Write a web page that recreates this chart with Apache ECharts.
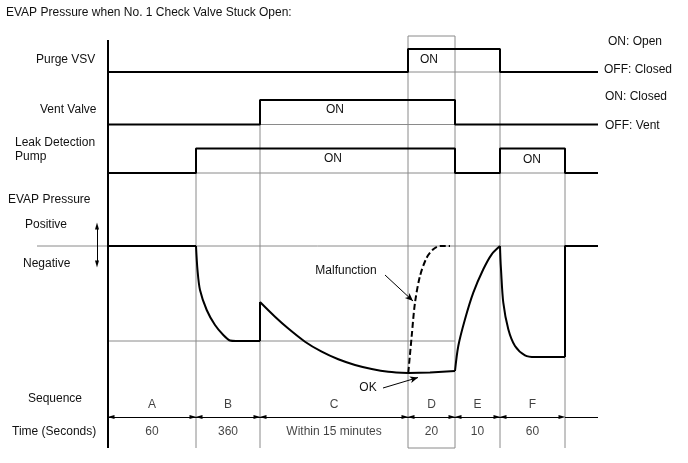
<!DOCTYPE html>
<html><head><meta charset="utf-8">
<script src="https://cdn.jsdelivr.net/npm/echarts@6/dist/echarts.min.js"></script>
<style>html,body{margin:0;padding:0;background:#fff}#c{width:688px;height:463px}</style>
</head><body><div id="c"></div>
<script>
// ---------- DATA ----------
// Sequence boundaries on the (schematic, non-linear) time axis: A..F + trailing part
const seqBounds = [0, 88, 152, 300, 347, 392, 457, 490];
const seqNames = ['A', 'B', 'C', 'D', 'E', 'F'];
const seqTimes = ['60', '360', 'Within 15 minutes', '20', '10', '60'];
// Signal states per segment (A, B, C, D, E, F, after): 1 = ON, 0 = OFF
const purgeVSV  = [0, 0, 0, 1, 1, 0, 0];
const ventValve = [0, 0, 1, 1, 0, 0, 0];
const leakPump  = [0, 1, 1, 1, 0, 1, 0];
// EVAP pressure (relative to atmospheric, diagram units)
const pressA   = [[0, 0], [88, 0]];
const pressB   = [[88, 0], [89.5, -24], [92, -44], [98.7, -64], [107, -79], [115.3, -89], [122, -94.5], [128, -95], [152, -95]];
const pressJump = [[152, -95], [152, -56]];
const pressC   = [[152, -56], [167, -70.7], [180, -82.3], [197, -95.7], [213.7, -105.7], [230.3, -113.3], [247, -119], [263.7, -123], [280.3, -125.7], [300, -127]];
const pressOK  = [[300, -127], [322, -126.6], [347, -125]];
const pressNG  = [[300.3, -126.7], [303.7, -90], [307, -56.7], [312, -30], [318.7, -11.7], [325.3, -3.3], [332, 0], [342, 0]];
const pressE   = [[347, -125], [350.3, -100], [357, -73.3], [365.3, -46.7], [375.3, -23.3], [383.7, -8.3], [392, 0]];
const pressF   = [[392, 0], [392.4, -12], [393, -23.3], [395.3, -56.7], [400.3, -83.3], [407, -100], [417, -109.3], [427, -111], [457, -111]];
const pressEnd = [[457, -111], [457, 0], [490, 0]];
const pressRef = -95;   // level of the grey reference line

// ---------- LAYOUT ----------
const lanes = { purge: { lo: 376, hi: 399 }, vent: { lo: 323.5, hi: 348 }, pump: { lo: 275, hi: 299.5 } };
const P0 = 202;           // pressure zero line
const boxTop = 412, axisTop = 408;
const seqY = 43.5, timeY = 16.5, arrowY = 31;
const FONT = '12px "Liberation Sans", Arial, sans-serif';
const TXT = '#111', GREY = '#8a8a8a';

function stepData(states, lv) {
  const pts = [];
  states.forEach((s, i) => {
    const y = s ? lv.hi : lv.lo;
    pts.push([seqBounds[i], y], [seqBounds[i + 1], y]);
  });
  return pts;
}
const P = arr => arr.map(([x, p]) => [x, P0 + p]);
function L(data, opt) {
  return Object.assign({ type: 'line', data, symbol: 'none', silent: true, animation: false,
    lineStyle: { color: '#000', width: 2 }, z: 3 }, opt || {});
}
const G = data => L(data, { lineStyle: { color: GREY, width: 1 }, z: 2 });
const last = seqBounds[seqBounds.length - 1];

const series = [];
// grey baselines
series.push(G([[0, lanes.purge.lo], [last, lanes.purge.lo]]));
series.push(G([[0, lanes.vent.lo], [last, lanes.vent.lo]]));
series.push(G([[0, lanes.pump.lo], [last, lanes.pump.lo]]));
series.push(G([[-71, P0], [last, P0]]));
series.push(G([[0, P0 + pressRef], [seqBounds[4], P0 + pressRef]]));
// grey vertical boundaries
[[1, lanes.pump.hi], [2, lanes.vent.hi], [5, lanes.purge.hi], [6, lanes.pump.hi]].forEach(([i, top]) => {
  series.push(G([[seqBounds[i], top], [seqBounds[i], 0]]));
});
// D box
series.push(G([[seqBounds[3], 0], [seqBounds[3], boxTop], [seqBounds[4], boxTop], [seqBounds[4], 0], [seqBounds[3], 0]]));
// left axis
series.push(L([[0, axisTop], [0, 0]], { z: 4 }));
// signals
series.push(L(stepData(purgeVSV, lanes.purge)));
series.push(L(stepData(ventValve, lanes.vent)));
series.push(L(stepData(leakPump, lanes.pump)));
// pressure
[pressA, pressJump, pressOK, pressEnd].forEach(a => series.push(L(P(a))));
[pressB, pressC, pressE, pressF].forEach(a => series.push(L(P(a), { smooth: 0.3 })));
series.push(L(P(pressNG), { smooth: 0.3, lineStyle: { color: '#000', width: 2, type: [6, 3] } }));

// arrows
const arrowData = [];
for (let i = 0; i < seqNames.length; i++) {
  arrowData.push([{ coord: [seqBounds[i] + 3, arrowY] }, { coord: [seqBounds[i + 1] - 3, arrowY] }]);
}
series.push({ type: 'line', data: [], silent: true, animation: false,
  markLine: { silent: true, animation: false, symbol: ['triangle', 'triangle'], symbolSize: [4, 7],
    label: { show: false }, lineStyle: { color: '#000', width: 1, type: 'solid' },
    data: arrowData.concat([[{ coord: [-11, 222] }, { coord: [-11, 184] }]]) } });
series.push({ type: 'line', data: [], silent: true, animation: false,
  markLine: { silent: true, animation: false, symbol: ['none', 'none'],
    label: { show: false }, lineStyle: { color: '#000', width: 1, type: 'solid' },
    data: [[{ coord: [seqBounds[0], arrowY] }, { coord: [seqBounds[1] - 4, arrowY] }],
           [{ coord: [seqBounds[6], arrowY] }, { coord: [last, arrowY] }]].concat(
           seqBounds.slice(1, 6).map(b => [{ coord: [b - 4, arrowY] }, { coord: [b + 4, arrowY] }])) } });
series.push({ type: 'line', data: [], silent: true, animation: false,
  markLine: { silent: true, animation: false, symbol: ['none', 'arrow'], symbolSize: [5, 8],
    label: { show: false }, lineStyle: { color: '#000', width: 1, type: 'solid' },
    data: [[{ coord: [277, 173] }, { coord: [305, 147] }], [{ coord: [275, 60] }, { coord: [310, 70.5] }]] } });

// sequence letters and times
const mids = seqNames.map((_, i) => (seqBounds[i] + seqBounds[i + 1]) / 2);
series.push({ type: 'scatter', silent: true, animation: false, symbolSize: 1, itemStyle: { color: 'rgba(0,0,0,0)' },
  data: mids.map(m => [m, seqY]),
  label: { show: true, position: 'inside', formatter: p => seqNames[p.dataIndex], color: TXT, fontSize: 12, fontFamily: '"Liberation Sans", Arial, sans-serif' } });
series.push({ type: 'scatter', silent: true, animation: false, symbolSize: 1, itemStyle: { color: 'rgba(0,0,0,0)' },
  data: mids.map(m => [m, timeY]),
  label: { show: true, position: 'inside', formatter: p => seqTimes[p.dataIndex], color: TXT, fontSize: 12, fontFamily: '"Liberation Sans", Arial, sans-serif' } });

function T(text, x, y, align) {
  align = align || 'left';
  return { type: 'text', x, y, silent: true,
    style: { text, font: FONT, fill: TXT, textAlign: align, textVerticalAlign: 'middle', align, verticalAlign: 'middle' } };
}
const texts = [
  T('EVAP Pressure when No. 1 Check Valve Stuck Open:', 6, 13),
  T('Purge VSV', 36, 60), T('Vent Valve', 40, 110),
  T('Leak Detection', 15, 143), T('Pump', 15, 157),
  T('EVAP Pressure', 8, 200), T('Positive', 25, 225), T('Negative', 23, 264),
  T('Sequence', 28, 399), T('Time (Seconds)', 12, 432),
  T('ON: Open', 608, 42), T('OFF: Closed', 604, 70), T('ON: Closed', 605, 97), T('OFF: Vent', 605, 126),
  T('ON', 429, 60, 'center'), T('ON', 335, 110, 'center'), T('ON', 333, 159, 'center'), T('ON', 532, 160, 'center'),
  T('Malfunction', 346, 271, 'center'), T('OK', 368, 388, 'center')
];

const chart = echarts.init(document.getElementById('c'), null, { renderer: 'canvas' });
chart.setOption({
  backgroundColor: '#fff',
  animation: false,
  grid: { left: 0, right: 0, top: 0, bottom: 0 },
  xAxis: { type: 'value', min: -108, max: 580, show: false },
  yAxis: { type: 'value', min: -15, max: 448, show: false },
  series,
  graphic: texts
});
</script></body></html>
